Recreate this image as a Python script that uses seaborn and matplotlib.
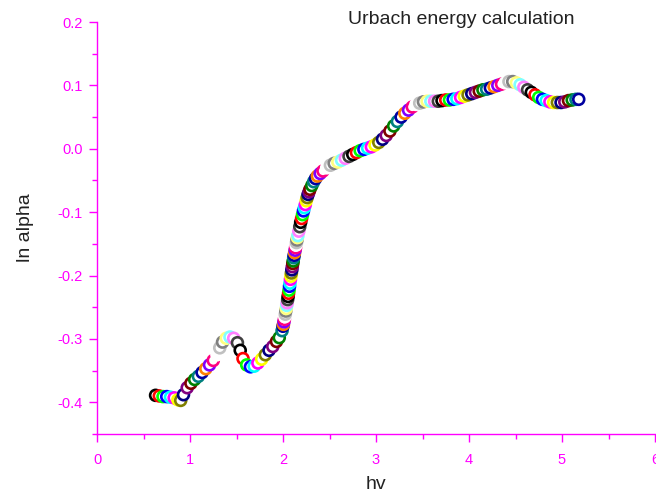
import numpy as np
import pandas as pd
import matplotlib
matplotlib.use("Agg")
import matplotlib.pyplot as plt
import seaborn as sns

hv = [0.63, 0.67, 0.71, 0.75, 0.79, 0.83, 0.87, 0.90, 0.93, 0.97,
      1.01, 1.05, 1.09, 1.13, 1.17, 1.21, 1.25, 1.29, 1.32, 1.35,
      1.39, 1.43, 1.47, 1.51, 1.54, 1.57, 1.61, 1.65, 1.69, 1.73,
      1.77, 1.81, 1.85, 1.89, 1.93, 1.96, 1.99,
      2.000, 2.005, 2.010, 2.015, 2.020, 2.025, 2.030, 2.035, 2.040, 2.045,
      2.050, 2.055, 2.060, 2.065, 2.070, 2.075, 2.080, 2.085, 2.090, 2.095,
      2.100, 2.105, 2.110, 2.115, 2.120, 2.125, 2.130, 2.135, 2.140, 2.145,
      2.150, 2.155, 2.160,
      2.17, 2.18, 2.19, 2.20, 2.21, 2.22, 2.23, 2.24, 2.25, 2.26,
      2.27, 2.28, 2.29, 2.31, 2.33, 2.35, 2.37, 2.40,
      2.43, 2.47, 2.51, 2.55, 2.59, 2.63, 2.67, 2.71, 2.75, 2.79,
      2.83, 2.87, 2.91, 2.95, 2.99, 3.03, 3.07, 3.11, 3.15, 3.19,
      3.23, 3.27, 3.31, 3.35, 3.39, 3.43, 3.47, 3.51, 3.55, 3.59,
      3.63, 3.67, 3.71, 3.75, 3.79, 3.83, 3.87, 3.91, 3.95, 3.99,
      4.03, 4.07, 4.11, 4.15, 4.19, 4.23, 4.27, 4.31, 4.35, 4.39,
      4.43, 4.47, 4.51, 4.55, 4.59, 4.63, 4.67, 4.71, 4.75, 4.79,
      4.83, 4.87, 4.91, 4.95, 4.99, 5.03, 5.07, 5.11, 5.15, 5.18]

ln_alpha = [-0.389, -0.390, -0.391, -0.391, -0.392, -0.393, -0.396, -0.397, -0.388, -0.377,
            -0.370, -0.364, -0.359, -0.353, -0.347, -0.341, -0.334, -0.325, -0.314, -0.305,
            -0.299, -0.297, -0.299, -0.306, -0.318, -0.331, -0.341, -0.344, -0.343, -0.338,
            -0.332, -0.325, -0.318, -0.312, -0.304, -0.298, -0.287,
            -0.280, -0.277, -0.273, -0.269, -0.265, -0.261, -0.256, -0.252, -0.247, -0.243,
            -0.238, -0.233, -0.228, -0.223, -0.217, -0.212, -0.206, -0.201, -0.196, -0.191,
            -0.186, -0.181, -0.177, -0.172, -0.168, -0.164, -0.160, -0.156, -0.152, -0.148,
            -0.144, -0.140, -0.137,
            -0.130, -0.123, -0.116, -0.110, -0.104, -0.098, -0.093, -0.088, -0.082, -0.077,
            -0.072, -0.068, -0.064, -0.058, -0.052, -0.047, -0.043, -0.039,
            -0.035, -0.030, -0.026, -0.023, -0.021, -0.018, -0.015, -0.012, -0.009, -0.006,
            -0.003, -0.001, 0.001, 0.003, 0.006, 0.010, 0.015, 0.021, 0.028, 0.036,
            0.043, 0.050, 0.056, 0.061, 0.066, 0.070, 0.072, 0.074, 0.075, 0.075,
            0.075, 0.075, 0.076, 0.077, 0.077, 0.078, 0.079, 0.081, 0.083, 0.085,
            0.087, 0.089, 0.091, 0.093, 0.094, 0.096, 0.098, 0.100, 0.102, 0.104,
            0.106, 0.106, 0.104, 0.101, 0.097, 0.093, 0.089, 0.085, 0.081, 0.078,
            0.076, 0.074, 0.073, 0.073, 0.073, 0.074, 0.076, 0.077, 0.078, 0.078]

origin_colors = ["#000000", "#FF0000", "#00FF00", "#0000FF", "#00FFFF", "#FF00FF",
                 "#FFFF00", "#808000", "#000080", "#800080", "#800000", "#008000",
                 "#008080", "#0000A0", "#FF8000", "#8000FF", "#FF0080", "#FFFFFF",
                 "#C0C0C0", "#808080", "#FFFF80", "#80FFFF", "#FF80FF", "#404040"]

x_ticks = [0, 1, 2, 3, 4, 5, 6]
y_ticks = [-0.4, -0.3, -0.2, -0.1, 0.0, 0.1, 0.2]
y_ticklabels = ["-0.4", "-0.3", "-0.2", "-0.1", "0.0", "0.1", "0.2"]

sns.set_style("white")
plt.rcParams['font.family'] = ['Liberation Sans', 'DejaVu Sans']

MAG = "#FF00FF"
hue_names = [f"c{i:02d}" for i in range(len(origin_colors))]
df = pd.DataFrame({"hv": hv, "ln_alpha": ln_alpha})
df["c"] = [hue_names[i % len(hue_names)] for i in range(len(df))]

fig = plt.figure(figsize=(6.56, 4.95), dpi=100)
ax = fig.add_axes([97 / 656, 61 / 495, 558 / 656, 412 / 495])

sns.scatterplot(data=df, x="hv", y="ln_alpha", hue="c", hue_order=hue_names,
                palette=origin_colors, legend=False, s=62, marker="o", ax=ax)
coll = ax.collections[0]
fc = coll.get_facecolors()
coll.set_edgecolors(fc)
coll.set_facecolors("white")
coll.set_linewidths(1.9)
coll.set_clip_on(False)

ax.set_xlim(0, 6)
ax.set_ylim(-0.45, 0.2)
ax.set_xticks(x_ticks)
ax.set_yticks(y_ticks)
ax.set_yticklabels(y_ticklabels)
ax.set_xticks(np.arange(0.5, 6, 1.0), minor=True)
ax.set_yticks(np.arange(-0.45, 0.2, 0.1), minor=True)

for side in ["top", "right"]:
    ax.spines[side].set_visible(False)
for side in ["left", "bottom"]:
    ax.spines[side].set_color(MAG)
    ax.spines[side].set_linewidth(1.0)

ax.tick_params(axis="both", which="major", direction="out", length=5.5, width=1.0,
               color=MAG, labelcolor=MAG, labelsize=10.5, left=True, bottom=True)
ax.tick_params(axis="both", which="minor", direction="out", length=3.5, width=1.0,
               color=MAG, left=True, bottom=True)
ax.tick_params(axis="x", which="major", pad=8)
ax.tick_params(axis="y", which="major", pad=5)

ax.set_xlabel("hv", fontsize=14, color="#222222", labelpad=7)
ax.set_ylabel("ln alpha", fontsize=14, color="#222222", labelpad=17)

fig.text(461 / 656, 1 - 20 / 495, "Urbach energy calculation", ha="center", va="center",
         fontsize=14, color="#222222")

fig.savefig("out.png", dpi=100)
